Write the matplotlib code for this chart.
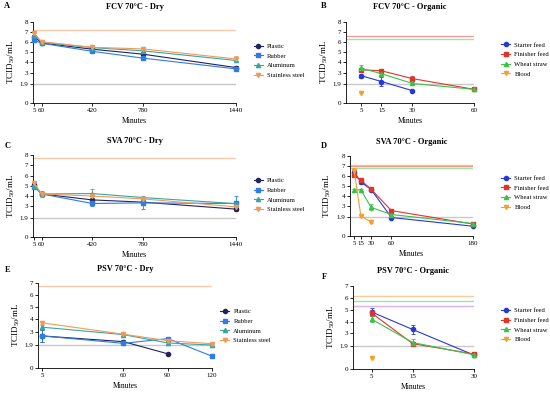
import matplotlib.pyplot as plt
from matplotlib.lines import Line2D

plt.rcParams['font.family'] = ['Liberation Serif', 'DejaVu Serif']
plt.rcParams['mathtext.default'] = 'regular'

surfaces = ['Plastic', 'Rubber', 'Aluminum', 'Stainless steel']
feeds = ['Starter feed', 'Finisher feed', 'Wheat straw', 'Blood']
surf_colors = ['#24235f', '#2f7be8', '#3aa5a0', '#f09a5a']
surf_markers = ['o', 's', '^', 'v']
feed_colors = ['#2638d6', '#e2332b', '#3cc24a', '#f4a02a']
feed_markers = ['o', 's', '^', 'v']

# A - FCV dry
fcv_dry_x = [5, 60, 420, 780, 1440]
fcv_dry_y = [[6.55, 5.92, 5.31, 4.82, 3.5],
             [6.2, 5.9, 5.1, 4.43, 3.37],
             [6.75, 6.0, 5.47, 5.15, 4.2],
             [6.9, 6.05, 5.5, 5.34, 4.35]]
fcv_dry_err = [[0.15, 0.1, 0.15, 0.2, 0.2],
               [0.15, 0.1, 0.15, 0.2, 0.25],
               [0.15, 0.1, 0.2, 0.15, 0.2],
               [0.15, 0.1, 0.15, 0.15, 0.25]]
fcv_dry_ctrl = [7.2]

# B - FCV organic
fcv_org_x = [5, 15, 30, 60]
fcv_org_y = [[2.7, 2.12, 1.22],
             [3.28, 3.18, 2.41, 1.35],
             [3.44, 2.89, 1.93, 1.35],
             [1.0]]
fcv_org_err = [[0.2, 0.4, 0.05],
               [0.2, 0.1, 0.25, 0.05],
               [0.35, 0.15, 0.1, 0.05],
               [0.05]]
fcv_org_ctrl = [6.62, 6.33]

# C - SVA dry
sva_dry_x = [5, 60, 420, 780, 1440]
sva_dry_y = [[5.08, 4.2, 3.62, 3.4, 2.72],
             [4.92, 4.2, 3.27, 3.33, 3.27],
             [5.0, 4.2, 4.24, 3.85, 3.25],
             [5.28, 4.2, 4.0, 3.72, 2.94]]
sva_dry_err = [[0.2, 0.15, 0.2, 0.2, 0.1],
               [0.2, 0.15, 0.2, 0.6, 0.7],
               [0.2, 0.15, 0.4, 0.2, 0.3],
               [0.2, 0.3, 0.2, 0.2, 0.2]]
sva_dry_ctrl = [7.67]

# D - SVA organic
sva_org_x = [5, 15, 30, 60, 180]
sva_org_y = [[6.37, 5.4, 4.65, 1.85, 0.98],
             [6.11, 5.56, 4.68, 2.54, 1.2],
             [4.59, 4.62, 2.86, 2.15, 1.25],
             [6.55, 2.0, 1.4]]
sva_org_err = [[0.2, 0.15, 0.1, 0.1, 0.05],
               [0.2, 0.15, 0.1, 0.15, 0.05],
               [0.1, 0.1, 0.3, 0.1, 0.05],
               [0.3, 0.05, 0.05]]
sva_org_ctrl = [7.15, 7.05, 6.78]

# E - PSV dry
psv_dry_x = [5, 60, 90, 120]
psv_dry_y = [[2.64, 2.17, 1.17],
             [2.64, 2.03, 2.42, 0.97],
             [3.36, 2.75, 2.06, 1.89],
             [3.72, 2.78, 2.25, 2.0]]
psv_dry_err = [[0.5, 0.1, 0.05],
               [0.5, 0.1, 0.15, 0.05],
               [0.15, 0.1, 0.1, 0.1],
               [0.1, 0.1, 0.1, 0.1]]
psv_dry_ctrl = [6.72]

# F - PSV organic
psv_org_x = [5, 15, 30]
psv_org_y = [[4.8, 3.33, 1.17],
             [4.7, 2.14, 1.26],
             [4.19, 2.23, 1.2],
             [0.94]]
psv_org_err = [[0.3, 0.35, 0.05],
               [0.25, 0.1, 0.05],
               [0.25, 0.3, 0.05],
               [0.05]]
psv_org_ctrl = [6.18, 5.75, 5.3]


def panel(rect, letter, title, x, ys, errs, names, colors, markers, xlim,
          ymax, ctrl, ctrl_colors, leg_pos, letter_pos):
    ax = fig.add_axes(rect)
    for c, cc in zip(ctrl, ctrl_colors):
        ax.plot([xlim[0], x[-1]], [c, c], color=cc, lw=1.0, alpha=0.55,
                solid_capstyle='butt')
    ax.plot([xlim[0], x[-1]], [1.9, 1.9], color='#c8c8c8', lw=1.0)
    for y, e, col, m in zip(ys, errs, colors, markers):
        ax.errorbar(x[:len(y)], y, yerr=e, color=col, marker=m, ms=3,
                    lw=0.8, elinewidth=0.6, capsize=1.2, capthick=0.6,
                    clip_on=False, zorder=3)
    ax.set_xlim(xlim[0], x[-1])
    ax.set_ylim(0, ymax)
    ax.set_xticks(x)
    ax.set_yticks([0, 1.9] + list(range(3, ymax + 1)))
    ax.set_yticklabels(['0', '1.9'] + [str(v) for v in range(3, ymax + 1)])
    for s in ['top', 'right']:
        ax.spines[s].set_visible(False)
    ax.spines['left'].set_bounds(0, ymax)
    ax.spines['bottom'].set_bounds(xlim[0], x[-1])
    for s in ['left', 'bottom']:
        ax.spines[s].set_linewidth(0.6)
    ax.tick_params(labelsize=5, length=2, width=0.6, pad=1.5)
    ax.set_xlabel('Minutes', fontsize=5.5, labelpad=3)
    ax.set_ylabel('TCID$_{50}$/mL', fontsize=6.5, labelpad=2)
    ax.set_title(title, fontsize=6, fontweight='bold', pad=9)
    fig.text(letter_pos[0], letter_pos[1], letter, fontsize=6,
             fontweight='bold', va='center')
    handles = [Line2D([], [], color=c, marker=m, ms=3, lw=0.8)
               for c, m in zip(colors, markers)]
    fig.legend(handles, names, loc='center left', bbox_to_anchor=leg_pos,
               frameon=False, fontsize=4.8, handlelength=1.4,
               handletextpad=0.6, labelspacing=0.6, borderpad=0)
    return ax


fig = plt.figure(figsize=(5.5, 3.94), dpi=100)

panel([0.06, 0.7386, 0.369, 0.2056], 'A', 'FCV 70°C - Dry', fcv_dry_x,
      fcv_dry_y, fcv_dry_err, surfaces, surf_colors, surf_markers,
      (-2, 1440), 8, fcv_dry_ctrl, ['#f0a060'], (0.455, 0.846),
      (0.008, 0.985))
panel([0.629, 0.7386, 0.2327, 0.2056], 'B', 'FCV 70°C - Organic', fcv_org_x,
      fcv_org_y, fcv_org_err, feeds, feed_colors, feed_markers,
      (-2.3, 60), 8, fcv_org_ctrl, ['#e8504a', '#5cc85c'], (0.905, 0.849),
      (0.583, 0.985))
panel([0.06, 0.3985, 0.369, 0.208], 'C', 'SVA 70°C - Dry', sva_dry_x,
      sva_dry_y, sva_dry_err, surfaces, surf_colors, surf_markers,
      (-2, 1440), 8, sva_dry_ctrl, ['#f0a060'], (0.455, 0.505),
      (0.008, 0.63))
panel([0.636, 0.401, 0.2236, 0.203], 'D', 'SVA 70°C - Organic', sva_org_x,
      sva_org_y, sva_org_err, feeds, feed_colors, feed_markers,
      (-1.4, 180), 8, sva_org_ctrl, ['#f4a040', '#e8504a', '#5cc85c'],
      (0.905, 0.511), (0.583, 0.63))
panel([0.069, 0.066, 0.3164, 0.2157], 'E', 'PSV 70°C - Dry', psv_dry_x,
      psv_dry_y, psv_dry_err, surfaces, surf_colors, surf_markers,
      (2, 120), 7, psv_dry_ctrl, ['#f0a060'], (0.394, 0.173),
      (0.008, 0.315))
panel([0.6418, 0.0635, 0.22, 0.2107], 'F', 'PSV 70°C - Organic', psv_org_x,
      psv_org_y, psv_org_err, feeds, feed_colors, feed_markers,
      (0.4, 30), 7, psv_org_ctrl, ['#f4a040', '#5cc85c', '#c070e0'],
      (0.905, 0.175), (0.585, 0.297))

fig.savefig('out.png', dpi=100)
